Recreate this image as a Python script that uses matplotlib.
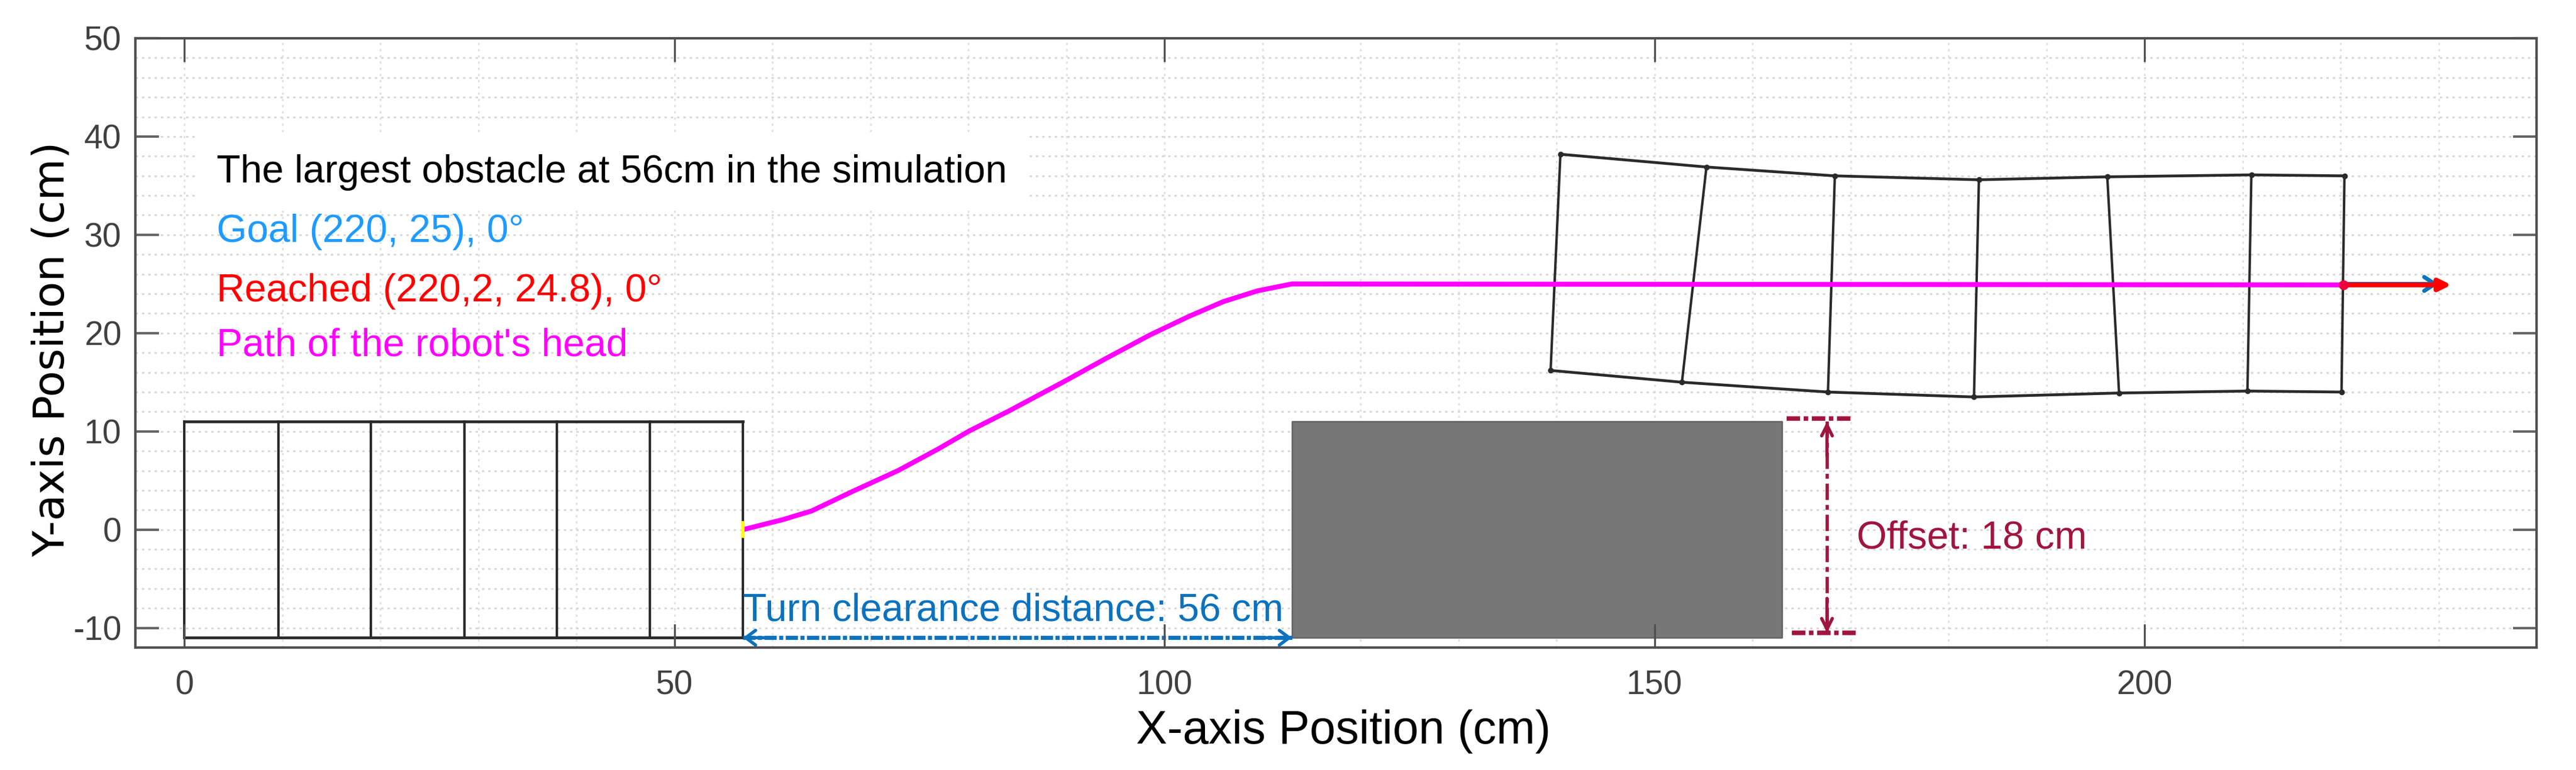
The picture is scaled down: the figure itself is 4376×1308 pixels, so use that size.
import matplotlib.pyplot as plt
import numpy as np
from matplotlib.ticker import MultipleLocator

plt.rcParams['font.family'] = ['Liberation Sans', 'DejaVu Sans']
plt.rcParams['axes.unicode_minus'] = False

# robot at the start
start_x = [0, 9.6, 19, 28.6, 38, 47.5, 57]
start_top = [11, 11, 11, 11, 11, 11, 11]
start_bot = [-11, -11, -11, -11, -11, -11, -11]

# robot at the goal
end_top_x = [140.4, 155.3, 168.4, 183.1, 196.2, 210.9, 220.4]
end_top_y = [38.2, 36.9, 36.0, 35.6, 35.9, 36.1, 36.0]
end_bot_x = [139.4, 152.8, 167.7, 182.6, 197.4, 210.5, 220.1]
end_bot_y = [16.2, 15.0, 14.0, 13.5, 13.9, 14.1, 14.0]

# path of the head
path_x = [57, 61, 64, 68.2, 72.8, 76.9, 80.1, 84.1, 90, 94, 98.5, 102.5, 106, 109.5, 111.5, 113, 220.3]
path_y = [0, 1.0, 1.9, 3.9, 6.0, 8.2, 10.05, 12.06, 15.2, 17.4, 19.8, 21.7, 23.2, 24.3, 24.7, 25, 24.9]

obstacle_x = [113, 163]
obstacle_y = [-11, 11]

fig = plt.figure(figsize=(43.76, 13.08), dpi=100)
rect = [230 / 4376, 1 - 1100 / 1308, (4309 - 230) / 4376, (1100 - 65) / 1308]
ax = fig.add_axes(rect)
ax.set_xlim(-5, 240)
ax.set_ylim(-12, 50)
ax.xaxis.set_major_locator(MultipleLocator(50))
ax.xaxis.set_minor_locator(MultipleLocator(10))
ax.yaxis.set_major_locator(MultipleLocator(10))
ax.yaxis.set_minor_locator(MultipleLocator(2))
ax.tick_params(which='both', length=0, labelbottom=False, labelleft=False)
ax.grid(axis='x', which='both', color='#e0e0e0', lw=2, ls=(0, (1.4, 2.4)))
ax.grid(axis='y', which='both', color='#d8d8d8', lw=2.2, ls=(0, (1.3, 2.2)))
ax.set_axisbelow(True)
for s in ax.spines.values():
    s.set_visible(False)

# obstacle
ax.fill_between(obstacle_x, obstacle_y[0], obstacle_y[1], color='#777777', lw=2,
                edgecolor='#666666', zorder=2)

# first robot
ax.plot([start_x[0], start_x[-1]], [start_top[0], start_top[0]], color='#2a2a2a', lw=3.4, zorder=3)
ax.plot([start_x[0], start_x[-1]], [start_bot[0], start_bot[0]], color='#2a2a2a', lw=3.4, zorder=3)
for i in range(len(start_x)):
    ax.plot([start_x[i], start_x[i]], [start_bot[i], start_top[i]], color='#2a2a2a', lw=3, zorder=3)

# second robot
ax.plot(end_top_x, end_top_y, color='#2a2a2a', lw=3.4, marker='o', ms=6, zorder=3)
ax.plot(end_bot_x, end_bot_y, color='#2a2a2a', lw=3.4, marker='o', ms=6, zorder=3)
for i in range(len(end_top_x)):
    ax.plot([end_top_x[i], end_bot_x[i]], [end_top_y[i], end_bot_y[i]], color='#2a2a2a', lw=3, zorder=3)

# goal and reached arrows
ax.annotate('', xy=(230, 25), xytext=(220, 25), zorder=4,
            arrowprops=dict(arrowstyle='->,head_length=1.3,head_width=0.85', color='#0B72BD', lw=5, shrinkA=0, shrinkB=0))
ax.annotate('', xy=(231.3, 24.9), xytext=(220.3, 24.9), zorder=5,
            arrowprops=dict(arrowstyle='-|>,head_length=1.2,head_width=0.6', color='#FF0000', lw=6, shrinkA=0, shrinkB=0))
ax.plot(path_x, path_y, color='#FF00FF', lw=6, zorder=6, solid_capstyle='butt')
ax.plot(path_x[-1], path_y[-1], 'o', color='#F0003C', ms=11, zorder=7)
ax.plot([path_x[0], path_x[0]], [-0.7, 0.7], color='#FFFF00', lw=4, zorder=7)

# turn clearance
blue = '#0B72BD'
ax.plot([57, 113], [-11, -11], color=blue, lw=5, ls=(0, (3, 0.6, 1, 0.6)), zorder=4)
ax.annotate('', xy=(57, -11), xytext=(60, -11), zorder=5,
            arrowprops=dict(arrowstyle='->,head_length=1.2,head_width=0.9', color=blue, lw=4, shrinkA=0, shrinkB=0))
ax.annotate('', xy=(113, -11), xytext=(110, -11), zorder=5,
            arrowprops=dict(arrowstyle='->,head_length=1.2,head_width=0.9', color=blue, lw=4, shrinkA=0, shrinkB=0))
ax.text(57, -9.3, 'Turn clearance distance: 56 cm', color=blue, fontsize=47.5, zorder=6)

# offset
red = '#A0153E'
ax.plot([167.6, 167.6], [11, -10.5], color=red, lw=4, ls=(0, (5, 1.5, 1.5, 1.5)), zorder=4)
ax.plot([163.5, 170.3], [11.3, 11.3], color=red, lw=5.5, ls=(0, (3, 0.8, 1, 0.8)), zorder=4)
ax.plot([164, 170.8], [-10.5, -10.5], color=red, lw=5.5, ls=(0, (3, 0.8, 1, 0.8)), zorder=4)
ax.annotate('', xy=(167.6, 11), xytext=(167.6, 7.5), zorder=5,
            arrowprops=dict(arrowstyle='->,head_length=1.3,head_width=0.65', color=red, lw=4, shrinkA=0, shrinkB=0))
ax.annotate('', xy=(167.6, -10.5), xytext=(167.6, -7), zorder=5,
            arrowprops=dict(arrowstyle='->,head_length=1.3,head_width=0.65', color=red, lw=4, shrinkA=0, shrinkB=0))
ax.text(170.6, -1.9, 'Offset: 18 cm', color=red, fontsize=47.5, zorder=6)

# notes
ax.text(3.3, 35.3, 'The largest obstacle at 56cm in the simulation', color='black', fontsize=47.5, zorder=2,
        bbox=dict(facecolor='white', edgecolor='none', pad=24))
ax.text(3.3, 29.3, 'Goal (220, 25), 0°', color='#1E9BFF', fontsize=47.5, zorder=3)
ax.text(3.3, 23.2, 'Reached (220,2, 24.8), 0°', color='#FF0000', fontsize=47.5, zorder=3)
ax.text(3.3, 17.7, "Path of the robot's head", color='#FF00FF', fontsize=47.5, zorder=3)

# ticks and frame on top of everything
over = fig.add_axes(rect, sharex=ax, sharey=ax, facecolor='none')
over.set_xticks([0, 50, 100, 150, 200])
over.set_yticks([-10, 0, 10, 20, 30, 40, 50])
over.tick_params(which='minor', length=0)
over.tick_params(axis='x', which='major', direction='in', top=True, length=29, width=2.4, color='#505050',
                 labelsize=41, labelcolor='#404040', pad=27)
over.tick_params(axis='y', which='major', direction='in', right=True, length=29, width=3, color='#666666',
                 labelsize=41, labelcolor='#404040', pad=17)
for s in over.spines.values():
    s.set_color('#505050')
    s.set_linewidth(3)
over.set_xlabel('X-axis Position (cm)', fontsize=57, va='baseline')
over.xaxis.set_label_coords(0.503, -0.1575)
over.set_ylabel('Y-axis Position (cm)', fontsize=52.5, family=['DejaVu Sans'])
over.yaxis.set_label_coords(-0.026, 0.49)

fig.savefig('out.png', dpi=100, facecolor='white')
